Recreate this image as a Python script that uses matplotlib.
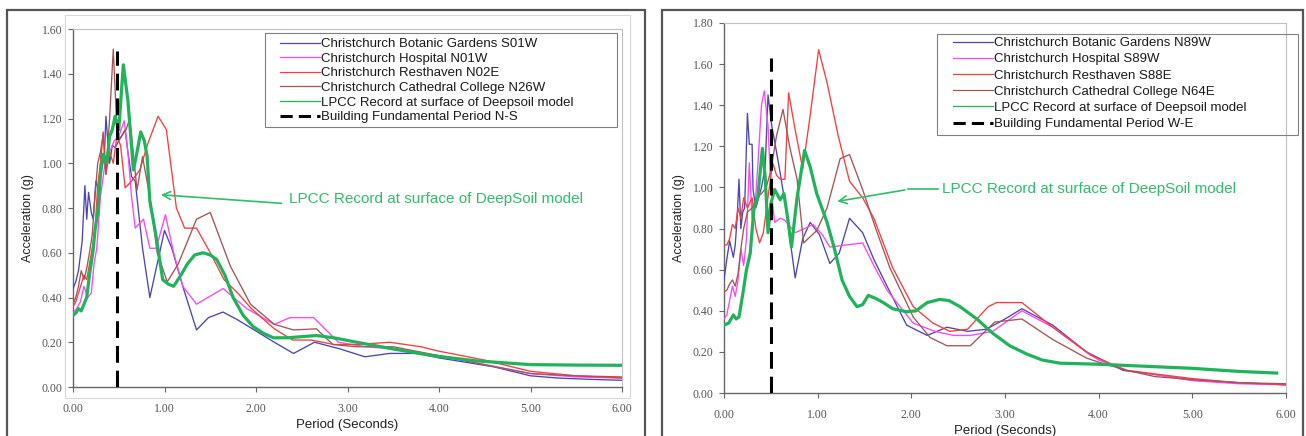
import matplotlib
matplotlib.use("Agg")
import matplotlib.pyplot as plt
from matplotlib.lines import Line2D
from matplotlib.patches import Rectangle

# ---------------- data : left panel (N-S) ----------------
L_bot_T = [0.00,0.03,0.06,0.10,0.13,0.15,0.17,0.20,0.22,0.25,0.28,0.31,0.34,0.36,0.38,0.40,0.43,0.46,0.50,0.53,0.57,0.60,0.64,0.68,0.76,0.84,0.92,1.00,1.08,1.20,1.35,1.48,1.64,1.80,2.00,2.20,2.41,2.64,2.92,3.19,3.46,3.79,4.00,4.30,4.60,5.00,5.30,5.60,6.00]
L_bot_A = [0.44,0.47,0.52,0.65,0.90,0.75,0.87,0.78,0.75,0.92,0.88,1.05,1.00,1.21,1.10,1.00,1.08,1.07,1.10,1.12,1.15,1.05,0.94,0.92,0.62,0.40,0.55,0.70,0.62,0.45,0.255,0.31,0.335,0.30,0.25,0.20,0.15,0.20,0.17,0.135,0.15,0.15,0.13,0.11,0.09,0.05,0.04,0.035,0.03]

L_hos_T = [0.00,0.04,0.08,0.12,0.16,0.20,0.23,0.26,0.30,0.35,0.40,0.45,0.50,0.56,0.60,0.64,0.68,0.77,0.84,0.91,1.01,1.10,1.20,1.35,1.64,1.90,2.20,2.37,2.63,2.90,3.20,3.50,4.00,4.50,5.00,5.50,6.00]
L_hos_A = [0.33,0.35,0.38,0.45,0.40,0.42,0.55,0.62,0.85,1.00,1.05,1.10,1.12,1.19,1.05,0.85,0.71,0.75,0.62,0.62,0.77,0.60,0.45,0.37,0.44,0.35,0.28,0.31,0.31,0.20,0.18,0.17,0.14,0.10,0.06,0.045,0.04]

L_res_T = [0.00,0.03,0.06,0.09,0.12,0.15,0.18,0.21,0.24,0.27,0.30,0.33,0.36,0.40,0.44,0.48,0.52,0.57,0.64,0.73,0.82,0.93,1.02,1.13,1.22,1.35,1.50,1.65,1.80,1.95,2.20,2.40,2.60,2.85,3.10,3.46,3.80,4.00,4.50,5.00,5.50,6.00]
L_res_A = [0.36,0.38,0.42,0.46,0.50,0.48,0.55,0.62,0.70,0.90,1.00,1.14,0.95,1.05,1.00,1.12,1.08,0.89,0.92,0.97,1.09,1.21,1.15,0.80,0.71,0.71,0.60,0.48,0.42,0.35,0.26,0.21,0.21,0.19,0.19,0.20,0.18,0.16,0.12,0.07,0.05,0.04]

L_cat_T = [0.00,0.03,0.06,0.09,0.12,0.15,0.18,0.21,0.24,0.27,0.30,0.33,0.36,0.40,0.44,0.48,0.51,0.58,0.62,0.70,0.76,0.84,0.92,1.03,1.15,1.35,1.50,1.72,1.94,2.20,2.41,2.66,2.84,3.10,3.50,4.00,4.50,5.00,5.50,6.00]
L_cat_A = [0.37,0.40,0.45,0.52,0.48,0.53,0.60,0.68,0.85,1.00,1.05,1.13,0.95,1.20,1.51,1.15,1.11,1.15,1.20,0.88,1.03,0.85,0.60,0.47,0.55,0.75,0.78,0.54,0.37,0.28,0.255,0.26,0.19,0.18,0.18,0.14,0.10,0.06,0.05,0.045]

L_lpcc_T = [0.00,0.03,0.06,0.09,0.12,0.15,0.18,0.22,0.24,0.27,0.30,0.33,0.37,0.40,0.43,0.46,0.50,0.55,0.60,0.66,0.70,0.74,0.78,0.81,0.84,0.91,0.98,1.04,1.10,1.18,1.25,1.33,1.42,1.50,1.57,1.66,1.75,1.86,1.97,2.08,2.19,2.35,2.50,2.66,2.85,3.10,3.50,3.93,4.40,5.00,5.50,6.00]
L_lpcc_A = [0.32,0.33,0.35,0.34,0.37,0.40,0.50,0.61,0.70,0.78,0.95,1.04,1.00,1.12,1.15,1.21,1.15,1.44,1.28,0.97,1.05,1.14,1.10,1.03,0.83,0.67,0.48,0.46,0.45,0.50,0.55,0.59,0.60,0.59,0.57,0.50,0.40,0.32,0.27,0.24,0.22,0.22,0.225,0.23,0.22,0.20,0.17,0.14,0.117,0.10,0.098,0.097]

L_period = 0.48
L_period_top = 1.50

# ---------------- data : right panel (W-E) ----------------
R_bot_T = [0.00,0.03,0.06,0.10,0.12,0.14,0.16,0.18,0.20,0.22,0.25,0.27,0.30,0.31,0.34,0.37,0.40,0.44,0.47,0.51,0.55,0.60,0.66,0.76,0.84,0.92,1.02,1.13,1.23,1.34,1.48,1.60,1.74,1.95,2.17,2.38,2.60,2.80,3.00,3.18,3.51,3.87,4.00,4.26,4.60,5.00,5.50,6.00]
R_bot_A = [0.55,0.65,0.74,0.66,0.72,0.85,1.04,0.80,0.88,0.90,1.36,1.21,1.21,0.99,0.90,0.95,1.00,1.10,1.45,1.30,1.20,1.07,0.90,0.56,0.75,0.83,0.77,0.63,0.68,0.85,0.78,0.65,0.52,0.33,0.28,0.32,0.30,0.31,0.36,0.41,0.33,0.20,0.17,0.11,0.09,0.063,0.05,0.04]

R_hos_T = [0.00,0.03,0.06,0.09,0.12,0.15,0.18,0.21,0.24,0.27,0.30,0.33,0.36,0.40,0.43,0.47,0.50,0.54,0.60,0.65,0.76,0.86,0.95,1.05,1.13,1.30,1.48,1.60,1.74,2.02,2.25,2.45,2.63,2.87,3.18,3.51,3.87,4.00,4.30,4.60,5.00,5.50,6.00]
R_hos_A = [0.36,0.38,0.45,0.52,0.47,0.55,0.70,0.62,0.75,1.12,0.85,0.90,1.10,1.40,1.47,1.30,1.00,0.83,0.85,0.84,0.78,0.80,0.82,0.77,0.71,0.72,0.73,0.62,0.50,0.34,0.30,0.28,0.28,0.30,0.40,0.32,0.20,0.16,0.11,0.09,0.06,0.045,0.04]

R_res_T = [0.00,0.03,0.06,0.09,0.12,0.15,0.18,0.21,0.25,0.30,0.34,0.38,0.42,0.46,0.52,0.56,0.60,0.65,0.69,0.76,0.84,0.92,1.01,1.10,1.22,1.34,1.48,1.60,1.80,2.02,2.23,2.41,2.60,2.82,2.91,3.18,3.51,3.91,4.30,5.00,5.50,6.00]
R_res_A = [0.72,0.72,0.75,0.82,0.80,0.90,0.85,0.95,0.90,0.95,0.80,0.73,0.78,0.92,1.12,1.06,1.04,1.04,1.46,1.28,1.09,1.35,1.67,1.51,1.25,1.03,0.95,0.85,0.61,0.42,0.34,0.30,0.31,0.42,0.44,0.44,0.32,0.185,0.11,0.07,0.05,0.04]

R_cat_T = [0.00,0.03,0.06,0.09,0.12,0.15,0.18,0.21,0.25,0.30,0.35,0.40,0.45,0.50,0.56,0.63,0.70,0.78,0.85,0.99,1.10,1.24,1.34,1.48,1.62,1.77,2.02,2.20,2.38,2.63,2.89,3.18,3.51,3.87,4.00,4.30,4.60,5.00,5.50,6.00]
R_cat_A = [0.49,0.50,0.53,0.55,0.52,0.58,0.70,0.80,0.88,0.90,0.95,0.97,1.00,1.08,1.25,1.38,1.20,1.04,0.73,0.79,0.90,1.14,1.16,0.99,0.80,0.61,0.37,0.27,0.23,0.23,0.345,0.36,0.26,0.17,0.15,0.11,0.08,0.065,0.05,0.045]

R_lpcc_T = [0.00,0.05,0.10,0.13,0.16,0.20,0.24,0.28,0.32,0.36,0.41,0.44,0.47,0.50,0.54,0.60,0.64,0.68,0.72,0.78,0.86,0.92,0.99,1.10,1.18,1.26,1.34,1.42,1.48,1.54,1.62,1.70,1.80,1.95,2.05,2.17,2.30,2.40,2.52,2.70,2.87,3.05,3.23,3.40,3.59,4.00,4.65,5.00,5.50,5.90]
R_lpcc_A = [0.33,0.34,0.38,0.36,0.37,0.48,0.60,0.68,0.90,0.95,1.19,1.05,0.78,0.92,0.99,0.94,0.97,0.85,0.71,0.95,1.18,1.10,0.97,0.83,0.70,0.55,0.47,0.42,0.43,0.475,0.46,0.44,0.41,0.395,0.40,0.44,0.455,0.45,0.42,0.36,0.29,0.23,0.19,0.16,0.145,0.14,0.127,0.12,0.105,0.097]

R_period = 0.50
R_period_top = 1.63

L_labels = ["Christchurch Botanic Gardens S01W", "Christchurch Hospital N01W",
            "Christchurch Resthaven N02E", "Christchurch Cathedral College N26W",
            "LPCC Record at surface of Deepsoil model", "Building Fundamental Period N-S"]
R_labels = ["Christchurch Botanic Gardens N89W", "Christchurch Hospital S89W",
            "Christchurch Resthaven S88E", "Christchurch Cathedral College N64E",
            "LPCC Record at surface of Deepsoil model", "Building Fundamental Period W-E"]
annot_text = "LPCC Record at surface of DeepSoil model"

x_ticks = [0, 1, 2, 3, 4, 5, 6]
L_y_ticks = [0.0, 0.2, 0.4, 0.6, 0.8, 1.0, 1.2, 1.4, 1.6]
R_y_ticks = [0.0, 0.2, 0.4, 0.6, 0.8, 1.0, 1.2, 1.4, 1.6, 1.8]

# ---------------- styles ----------------
C_BLUE = "#4a46b4"
C_PINK = "#ff44ff"
C_RED = "#ff3b3b"
C_BROWN = "#a85454"
C_GREEN = "#1fb35a"
C_ANN = "#2fbf6a"
SANS = "Liberation Sans"
SERIF = "Liberation Serif"

W, H = 1306, 436
fig = plt.figure(figsize=(W / 100, H / 100), dpi=100)


def fx(px):
    return px / W


def fy(py):
    return 1 - py / H


def frame(x0, y0, x1, y1, color, lw):
    fig.patches.append(Rectangle((fx(x0), fy(y1)), fx(x1) - fx(x0), fy(y0) - fy(y1),
                                 transform=fig.transFigure, fill=False,
                                 edgecolor=color, linewidth=lw, zorder=0))


def make_panel(box, series, period, ptop, ymax, yticks, labels,
               leg_box, leg_spacing, ann_text_xy, ann_head, ann_kink, ylab_x):
    ax = fig.add_axes(box)
    cols = [C_BLUE, C_PINK, C_RED, C_BROWN]
    for (t, a), c in zip(series[:4], cols):
        ax.plot(t, a, color=c, lw=0.95, zorder=3)
    t, a = series[4]
    ax.plot(t, a, color=C_GREEN, lw=2.3, zorder=4)
    ax.plot([period, period], [0, ptop], color="black", lw=2.2,
            dashes=(5.5, 2.6), zorder=5)
    ax.set_xlim(0, 6)
    ax.set_ylim(0, ymax)
    ax.set_xticks(x_ticks)
    ax.set_xticklabels([f"{v:.2f}" for v in x_ticks])
    ax.set_yticks(yticks)
    ax.set_yticklabels([f"{v:.2f}" for v in yticks])
    for lab in ax.get_xticklabels() + ax.get_yticklabels():
        lab.set_fontfamily(SERIF)
        lab.set_fontsize(8.5)
        lab.set_color("#555555")
    ax.tick_params(direction="out", length=3.5, width=0.8, color="#666666")
    ax.tick_params(axis="y", pad=4)
    ax.tick_params(axis="x", pad=8)
    for s in ("left", "bottom"):
        ax.spines[s].set_color("#666666")
        ax.spines[s].set_linewidth(1.0)
    for s in ("top", "right"):
        ax.spines[s].set_color("#c0c0c0")
        ax.spines[s].set_linewidth(0.8)
    ax.set_xlabel("Period (Seconds)", fontfamily=SANS, fontsize=9.5, color="#222222", labelpad=3)
    ax.set_ylabel("Acceleration (g)", fontfamily=SANS, fontsize=9, color="#222222")
    ax.yaxis.set_label_coords(ylab_x, 0.5, transform=fig.transFigure)

    handles = [Line2D([], [], color=c, lw=0.9) for c in cols]
    handles.append(Line2D([], [], color=C_GREEN, lw=0.9))
    handles.append(Line2D([], [], color="black", lw=2.2, dashes=(4, 2)))
    lx0, ly0, lx1, ly1, hx, top_off = leg_box
    frame(lx0, ly0, lx1, ly1, "#808080", 0.8)
    leg = ax.legend(handles, labels, loc="upper left",
                    bbox_to_anchor=(fx(hx), fy(ly0 + top_off)),
                    bbox_transform=fig.transFigure, frameon=False,
                    prop={"family": SANS, "size": 9.5}, borderpad=0, borderaxespad=0,
                    handlelength=3.0, handletextpad=0.1, labelspacing=leg_spacing)
    for txt in leg.get_texts():
        txt.set_color("#1a1a1a")

    tx, ty = ann_text_xy
    ax.text(tx, ty, annot_text, color=C_ANN, fontfamily=SANS, fontsize=11,
            va="center", ha="left", zorder=6)
    if ann_kink is None:
        ax.annotate("", xy=ann_head, xytext=(tx - 0.05, ty - 0.02),
                    arrowprops=dict(arrowstyle="->", color=C_ANN, lw=1.2,
                                    mutation_scale=14))
    else:
        ax.plot([tx - 0.05, ann_kink[0]], [ty, ann_kink[1]], color=C_ANN, lw=1.2)
        ax.annotate("", xy=ann_head, xytext=ann_kink,
                    arrowprops=dict(arrowstyle="->", color=C_ANN, lw=1.2,
                                    mutation_scale=14))
    return ax


# outer frames
frame(7, 10, 645, 440, "#555555", 1.6)
frame(65, 15, 630, 398, "#d8d8d8", 0.8)
frame(662, 10, 1303, 440, "#555555", 1.6)

left_series = [(L_bot_T, L_bot_A), (L_hos_T, L_hos_A), (L_res_T, L_res_A),
               (L_cat_T, L_cat_A), (L_lpcc_T, L_lpcc_A)]
right_series = [(R_bot_T, R_bot_A), (R_hos_T, R_hos_A), (R_res_T, R_res_A),
                (R_cat_T, R_cat_A), (R_lpcc_T, R_lpcc_A)]

make_panel([fx(73), fy(387), fx(622) - fx(73), fy(29) - fy(387)],
           left_series, L_period, L_period_top, 1.6, L_y_ticks, L_labels,
           (265, 33, 617, 127, 280, 5), 0.18, (2.36, 0.84), (0.93, 0.86), None, fx(34))
make_panel([fx(724), fy(393), fx(1286) - fx(724), fy(23) - fy(393)],
           right_series, R_period, R_period_top, 1.8, R_y_ticks, R_labels,
           (937, 34, 1298, 135, 953, 3), 0.30, (2.33, 0.99), (1.18, 0.93), (1.96, 0.99), fx(685))

fig.savefig("out.png", dpi=100)
